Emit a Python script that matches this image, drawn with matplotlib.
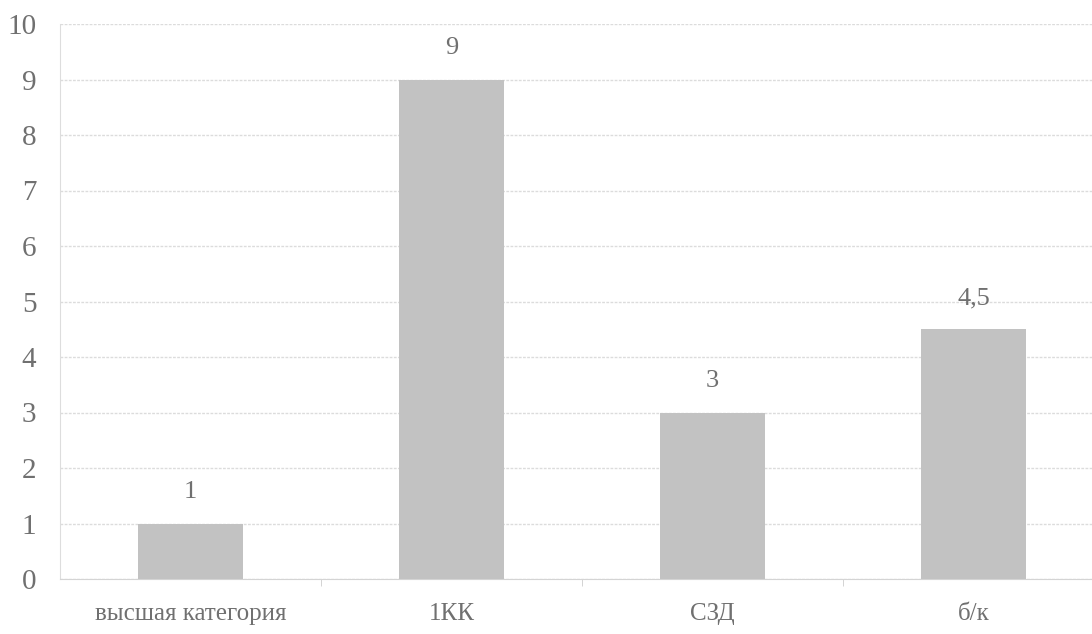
import matplotlib
matplotlib.use("Agg")
from matplotlib import pyplot as plt

categories = ["высшая категория", "1КК", "СЗД", "б/к"]
values = [1, 9, 3, 4.5]
value_labels = ["1", "9", "3", "4,5"]

plt.rcParams['font.family'] = ['Liberation Serif', 'DejaVu Serif']
text_color = '#707070'

fig = plt.figure(figsize=(10.92, 6.34), dpi=100)
ax = fig.add_axes([60/1092, 55/634, 1 - 60/1092, 555/634])

x = list(range(len(categories)))
ax.bar(x, values, width=0.4, color='#c2c2c2', zorder=2)

for xi, v, lab in zip(x, values, value_labels):
    ax.text(xi, v + 0.56, lab, ha='center', va='center', fontsize=19, color=text_color)

ax.set_xlim(-0.5, 3.454)
ax.set_ylim(0, 10)
ax.set_yticks(range(0, 11))
ax.set_xticks(x)
ax.set_xticklabels(categories)
ax.set_xticks([0.5, 1.5, 2.5], minor=True)
ax.tick_params(axis='x', which='major', length=0, pad=17, labelsize=18, labelcolor=text_color)
ax.tick_params(axis='x', which='minor', length=5, color='#cccccc')
ax.tick_params(axis='y', length=0, pad=17, labelsize=21, labelcolor=text_color)

ax.grid(axis='y', color='#dcdcdc', linewidth=1, linestyle=(0, (2, 1)), zorder=0)
for s in ['top', 'right']:
    ax.spines[s].set_visible(False)
ax.spines['left'].set_color('#dddddd')
ax.spines['bottom'].set_color('#d4d4d4')

fig.savefig("out.png", dpi=100)
